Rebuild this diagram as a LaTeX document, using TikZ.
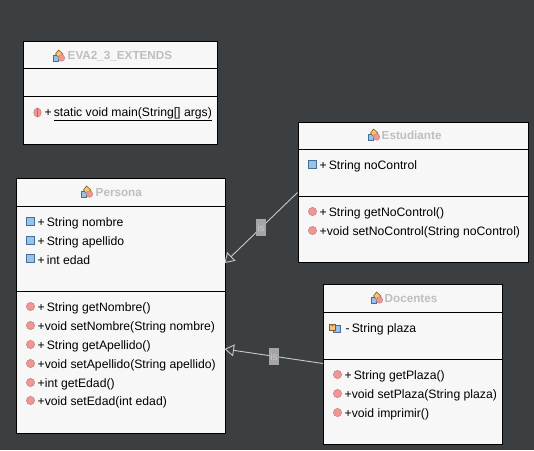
\documentclass[tikz,border=0pt]{standalone}
\usepackage{fontspec}
\setmainfont{Liberation Sans}
\usetikzlibrary{arrows.meta,calc}
\definecolor{bgc}{RGB}{60,63,65}
\definecolor{boxc}{RGB}{247,247,247}
\definecolor{titlec}{RGB}{190,190,190}
\definecolor{linec}{RGB}{200,200,200}
\definecolor{tagc}{RGB}{165,165,165}
\definecolor{blueic}{RGB}{150,195,230}
\definecolor{blueed}{RGB}{70,110,150}
\definecolor{pinkic}{RGB}{240,150,150}
\definecolor{pinked}{RGB}{190,100,100}
\definecolor{yelic}{RGB}{245,200,110}
\tikzset{
  x=1pt,y=-1pt,
  classbox/.style={draw=black,line width=1pt,fill=boxc,inner sep=0pt,anchor=north west},
  sep/.style={draw=black,line width=1pt},
  member/.style={anchor=west,inner sep=0pt,yshift=-2pt,font=\fontsize{12.2}{14}\selectfont,text=black},
  classtitle/.style={anchor=west,inner sep=0pt,yshift=-1pt,font=\fontsize{11.7}{14}\selectfont\bfseries,text=titlec},
  tag/.style={fill=tagc,text=linec,inner sep=0pt,minimum width=10pt,minimum height=17pt,font=\fontsize{10}{12}\selectfont},
  inherit/.style={draw=linec,line width=0.9pt,-{Triangle[open,length=9.5pt,width=12pt,fill=bgc]}},
  pics/fieldic/.style={code={\draw[draw=blueed,fill=blueic,line width=0.7pt] (-3.7,-3.7) rectangle (3.7,3.7);}},
  pics/methodic/.style={code={\draw[draw=pinked!80,fill=pinkic,line width=0.6pt] (0,0) circle (4.1);}},
  pics/staticic/.style={code={\draw[draw=pinked!80,fill=pinkic,line width=0.6pt] (0,0) ellipse (3.7 and 4.5);\draw[pinked,line width=0.6pt] (0,-4.2)--(0,4.2);}},
  pics/privic/.style={code={
    \draw[draw=blueed,fill=blueic,line width=0.7pt] (-1,-2) rectangle (5.5,5);
    \draw[draw=brown!70!black,fill=yelic,line width=0.7pt] (-5,-3) rectangle (1,2.5);
    \draw[draw=gray,line width=0.9pt] (-3.5,-3) arc[start angle=180,end angle=0,radius=1.5];}},
  pics/classic/.style={code={
    \draw[draw=blueed,fill=blueic,line width=0.6pt] (-5.5,-0.5) -- (0,-0.5) -- (0,5.5) -- (-5.5,5.5) -- cycle;
    \draw[draw=brown!70!black,fill=yelic,line width=0.6pt] (-3,-1.5) -- (0,-5.5) -- (4.5,-1.5) -- (0.5,2.5) -- cycle;
    \draw[draw=pinked!80,fill=pinkic,line width=0.6pt] (3,2.5) circle (3.2);}}
}
\begin{document}
\begin{tikzpicture}
\useasboundingbox[fill=bgc] (0,0) rectangle (534,450);
\begin{scope}[shift={(-0.5,-0.5)}]

% class boxes
\node[classbox,minimum width=194pt,minimum height=103pt] (eva) at (23.5,41) {};
\node[classbox,minimum width=208.5pt,minimum height=255pt] (persona) at (16.5,178.5) {};
\node[classbox,minimum width=230pt,minimum height=140pt] (estudiante) at (298,122) {};
\node[classbox,minimum width=179pt,minimum height=159.5pt] (docentes) at (323.5,284.5) {};

% compartments
\draw[sep] (23.5,69) -- (217.5,69) (23.5,97) -- (217.5,97);
\draw[sep] (16.5,206.5) -- (225,206.5) (16.5,291.5) -- (225,291.5);
\draw[sep] (298,149.5) -- (528,149.5) (298,196.5) -- (528,196.5);
\draw[sep] (323.5,312.5) -- (502.5,312.5) (323.5,359.5) -- (502.5,359.5);

% EVA2_3_EXTENDS
\pic at (59,56) {classic};
\node[classtitle] (evat) at (68,56) {EVA2\_3\_EXTENDS};
\pic at (38,113) {staticic};
\node[member] (evam) at (45,113) {+\,\underline{static void main(String[] args)}};

% Persona
\pic at (87,192) {classic};
\node[classtitle] (pert) at (96,192) {Persona};
\foreach \yy/\tx [count=\i] in {222/String nombre,241/String apellido,259/int edad}{
  \pic at (31,\yy) {fieldic};
  \node[member] (pf\i) at (38,\yy) {+\,\tx};
}
\pic at (31,307) {methodic};
\node[member] (pm1) at (38,307) {+\,String getNombre()};
\pic at (31,326) {methodic};
\node[member] (pm2) at (38,326) {+void setNombre(String nombre)};
\pic at (31,345) {methodic};
\node[member] (pm3) at (38,345) {+\,String getApellido()};
\pic at (31,364) {methodic};
\node[member] (pm4) at (38,364) {+void setApellido(String apellido)};
\pic at (31,383) {methodic};
\node[member] (pm5) at (38,383) {+int getEdad()};
\pic at (31,401) {methodic};
\node[member] (pm6) at (38,401) {+void setEdad(int edad)};

% Estudiante
\pic at (374,135) {classic};
\node[classtitle] (estt) at (382,135) {Estudiante};
\pic at (313,165) {fieldic};
\node[member] (ef1) at (320,165) {+\,String noControl};
\pic at (313,212) {methodic};
\node[member] (em1) at (320,212) {+\,String getNoControl()};
\pic at (313,231) {methodic};
\node[member] (em2) at (320,231) {+void setNoControl(String noControl)};

% Docentes
\pic at (377,298) {classic};
\node[classtitle] (doct) at (385,298) {Docentes};
\pic at (335,328) {privic};
\node[member] (df1) at (346,328) {-\,String plaza};
\pic at (338,375) {methodic};
\node[member] (dm1) at (345,375) {+\,String getPlaza()};
\pic at (338,394) {methodic};
\node[member] (dm2) at (345,394) {+void setPlaza(String plaza)};
\pic at (338,413) {methodic};
\node[member] (dm3) at (345,413) {+void imprimir()};

% connectors
\coordinate (estout) at ($(estudiante.north west)+(0,71)$);
\coordinate (perin1) at ($(persona.north east)+(-1,85)$);
\coordinate (docout) at ($(docentes.north west)+(0,79.5)$);
\coordinate (perin2) at ($(persona.north east)+(-1,171)$);
\draw[inherit] (estout) -- (perin1);
\draw[inherit] (docout) -- (perin2);
\node[tag] (tag1) at (261.5,228) {is};
\node[tag] (tag2) at (274.5,357) {is};
\end{scope}
\end{tikzpicture}
\end{document}
